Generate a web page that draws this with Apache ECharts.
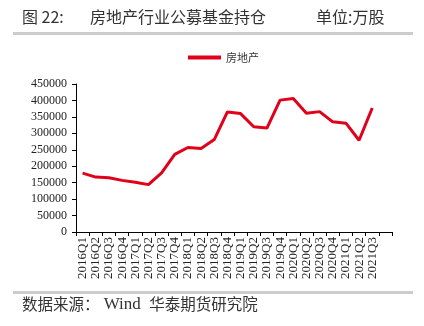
<!DOCTYPE html>
<html>
<head>
<meta charset="utf-8">
<script src="https://cdn.jsdelivr.net/npm/echarts@6/dist/echarts.min.js"></script>
<style>html,body{margin:0;padding:0;background:#fff;}#c{width:424px;height:326px;}</style>
</head>
<body>
<div id="c"></div>
<script>
const categories = ['2016Q1','2016Q2','2016Q3','2016Q4','2017Q1','2017Q2','2017Q3','2017Q4','2018Q1','2018Q2','2018Q3','2018Q4','2019Q1','2019Q2','2019Q3','2019Q4','2020Q1','2020Q2','2020Q3','2020Q4','2021Q1','2021Q2','2021Q3'];
const seriesName = '房地产';
const values = [179000,167000,165000,157000,151000,144000,180000,236000,257000,254000,281000,365000,360000,320000,316000,401000,406000,361000,366000,335000,331000,279000,377000];
const yTicks = {min:0, max:450000, interval:50000};

const serif = 'Liberation Serif';
const cjk = 'Noto Sans CJK SC';
const chart = echarts.init(document.getElementById('c'));
chart.setOption({
  animation:false,
  backgroundColor:'#fff',
  graphic:[
    {type:'rect', shape:{x:13,y:32,width:400,height:3}, style:{fill:'#cccccc'}},
    {type:'rect', shape:{x:13,y:291,width:400,height:3}, style:{fill:'#cccccc'}},
    {type:'text', left:22, top:9, style:{text:'图 22:', fontFamily:cjk, fontSize:16, fill:'#333'}},
    {type:'text', left:90, top:9, style:{text:'房地产行业公募基金持仓', fontFamily:cjk, fontSize:16, fill:'#333'}},
    {type:'text', left:316, top:9, style:{text:'单位:万股', fontFamily:cjk, fontSize:16, fill:'#333'}},
    {type:'text', left:22, top:296, style:{
      text:'{a|数据来源：}{b| Wind  }{a|华泰期货研究院}',
      rich:{
        a:{fontFamily:cjk, fontSize:15.5, fill:'#333', color:'#333'},
        b:{fontFamily:serif, fontSize:17, fill:'#333', color:'#333'}
      }
    }}
  ],
  legend:{
    data:[seriesName], left:183, top:47, itemWidth:33, itemHeight:4, icon:'rect', itemGap:4,
    textStyle:{fontFamily:cjk, fontSize:11, color:'#333'}
  },
  grid:{left:76, right:32, top:84, bottom:94, containLabel:false},
  xAxis:{
    type:'category', data:categories.concat(['']), boundaryGap:true,
    axisLine:{lineStyle:{color:'#000', width:1}},
    axisTick:{show:true, length:4, lineStyle:{color:'#000'}},
    axisLabel:{rotate:90, interval:0, fontFamily:serif, fontSize:13, color:'#222', margin:5}
  },
  yAxis:{
    type:'value', min:yTicks.min, max:yTicks.max, interval:yTicks.interval,
    axisLine:{show:true, lineStyle:{color:'#000', width:1}},
    axisTick:{show:true, length:4, lineStyle:{color:'#000'}},
    splitLine:{show:false},
    axisLabel:{fontFamily:serif, fontSize:12, color:'#222', margin:9, formatter:function(v){return String(v);}}
  },
  series:[{
    name:seriesName, type:'line', data:values, symbol:'none',
    lineStyle:{color:'#e1001a', width:3}, itemStyle:{color:'#e1001a'}
  }]
});
</script>
</body>
</html>
